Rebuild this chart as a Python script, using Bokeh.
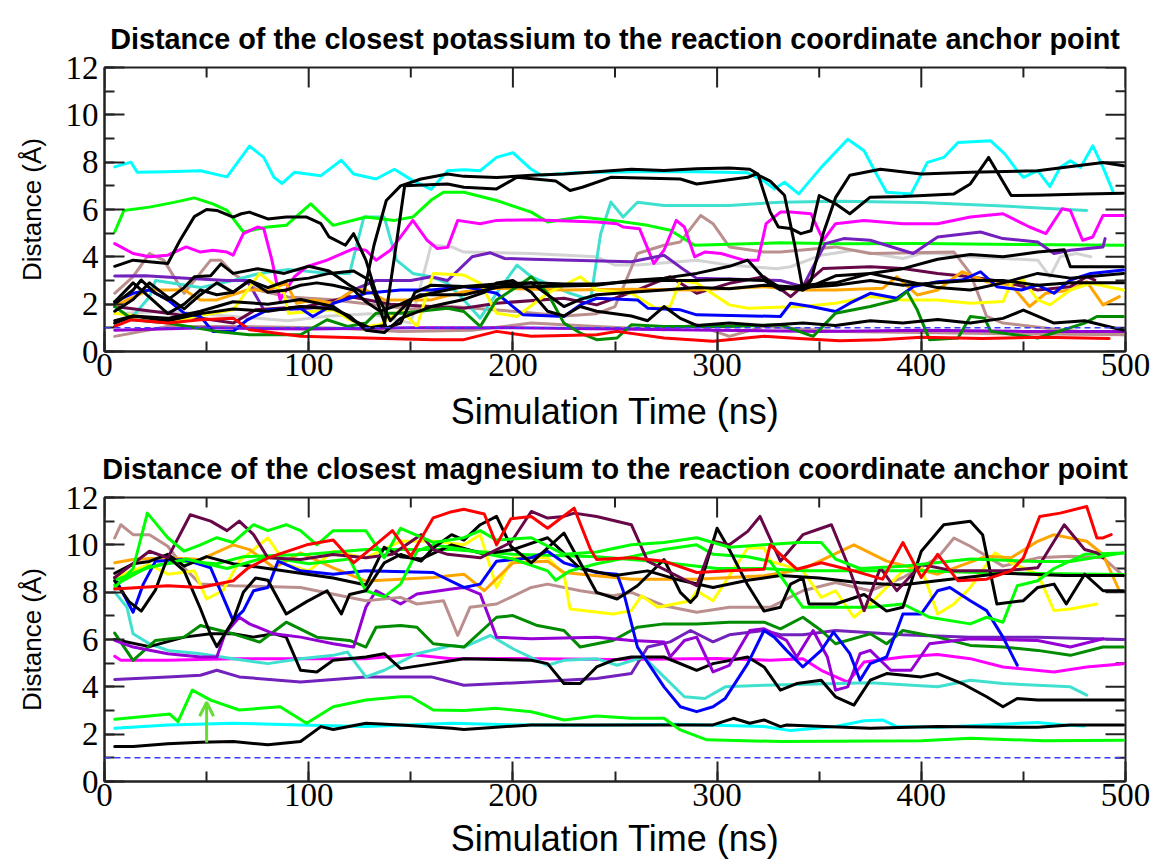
import math
from bokeh.plotting import figure
from bokeh.layouts import column
from bokeh.models import Range1d, SingleIntervalTicker, Span, Arrow, OpenHead
from bokeh.embed import file_html
from bokeh.resources import INLINE

# ---------------------------------------------------------------- labels and axes
TITLE_K = "Distance of the closest potassium to the reaction coordinate anchor point"
TITLE_MG = "Distance of the closest magnesium to the reaction coordinate anchor point"
X_LABEL = "Simulation Time (ns)"
Y_LABEL = "Distance (Å)"
X_MAX, Y_MAX = 500, 12
X_MAJOR, X_MINOR = [0, 100, 200, 300, 400, 500], [50, 150, 250, 350, 450]
Y_MAJOR, Y_MINOR = [0, 2, 4, 6, 8, 10, 12], [1, 3, 5, 7, 9, 11]
THRESHOLD = 1.0            # dashed reference distance (Å)

# ---------------------------------------------------------------- potassium traces: (time ns, distance Å)
K_CYAN = [(5, 7.8), (13, 8.0), (16, 7.57), (30, 7.6), (47, 7.64), (60, 7.38), (71, 8.68), (78, 8.2), (83, 7.36),
          (87, 7.1), (93, 7.57), (106, 7.43), (116, 8.08), (122, 7.5), (133, 7.29), (142, 7.7), (151, 7.22),
          (160, 6.85), (168, 7.64), (176, 7.68), (184, 7.64), (192, 8.2), (200, 8.4), (209, 7.7), (214, 7.45),
          (230, 7.55), (260, 7.6), (290, 7.6), (315, 7.55), (323, 7.2), (328, 6.87), (333, 7.15), (340, 6.66),
          (351, 7.78), (364, 8.97), (372, 8.48), (378, 7.5), (383, 6.73), (395, 6.66), (403, 7.99), (411, 8.2),
          (418, 8.83), (434, 8.9), (441, 8.34), (447, 7.64), (450, 7.36), (457, 7.64), (463, 6.97), (468, 7.78),
          (473, 8.06), (478, 7.78), (484, 8.69), (489, 7.78), (494, 6.73)]
K_GREEN = [(5, 5.05), (9.5, 5.96), (22, 6.1), (34, 6.3), (44, 6.49), (53, 6.24), (60, 5.96), (68, 5.05), (80, 5.26),
           (89, 5.33), (101, 6.24), (112, 5.33), (128, 5.68), (142, 5.54), (151, 5.68), (160, 6.4), (166, 6.73),
           (176, 6.73), (192, 6.38), (209, 5.89), (217, 5.47), (233, 5.68), (249, 5.54), (266, 5.33), (277, 5.12),
           (289, 4.49), (331, 4.59), (360, 4.55), (400, 4.56), (450, 4.52), (499, 4.49)]
K_MAGENTA = [(5, 4.56), (8, 4.42), (14, 4.14), (22, 4.0), (31, 4.07), (40, 4.42), (47, 4.2), (53, 4.28), (60, 4.2),
             (63, 4.07), (68, 4.98), (75, 5.26), (78, 5.19), (82, 3.86), (86, 2.18), (93, 3.16), (99, 3.58),
             (109, 3.86), (122, 4.35), (128, 4.28), (133, 3.86), (140, 4.28), (145, 4.84), (151, 5.54), (158, 4.7),
             (163, 4.35), (168, 4.4), (173, 5.54), (184, 5.4), (192, 5.54), (209, 5.57), (241, 5.47), (251, 5.4),
             (254, 5.26), (262, 5.19), (269, 3.72), (274, 4.28), (280, 5.54), (284, 5.26), (289, 4.0), (294, 4.2),
             (302, 4.14), (313, 3.86), (320, 3.86), (324, 5.4), (331, 5.89), (336, 5.89), (346, 5.82), (352, 4.7),
             (358, 5.4), (372, 5.54), (391, 5.4), (408, 5.4), (424, 5.68), (440, 5.82), (453, 5.26), (461, 4.98),
             (469, 6.03), (473, 5.96), (479, 4.7), (484, 4.84), (489, 5.75), (499, 5.75)]
K_TURQUOISE = [(5, 1.2), (14, 1.5), (22, 2.3), (25, 3.0), (47, 2.7), (63, 3.0), (76, 3.3), (90, 3.47), (110, 3.3),
               (120, 3.3), (127, 5.68), (137, 5.68), (143, 3.86), (151, 3.3), (160, 3.16), (168, 2.88), (176, 2.18),
               (184, 1.41), (192, 2.46), (202, 3.65), (209, 3.16), (228, 2.46), (238, 2.18), (243, 4.98),
               (248, 6.31), (254, 5.68), (261, 6.31), (274, 6.17), (306, 6.17), (331, 6.31), (360, 6.35),
               (400, 6.3), (440, 6.15), (481, 5.96)]
K_GRAY = [(5, 1.6), (30, 1.7), (60, 1.5), (90, 1.3), (110, 1.5), (130, 1.6), (150, 1.2), (160, 4.5), (170, 4.42),
          (176, 4.2), (209, 4.14), (241, 4.0), (250, 3.65), (261, 3.65), (290, 3.86), (306, 3.65), (329, 3.5),
          (336, 3.58), (351, 4.07), (367, 4.28), (391, 3.93), (400, 4.14), (408, 4.14), (424, 4.0), (457, 3.86),
          (463, 3.16), (468, 4.0), (476, 4.14), (483, 4.0)]
K_INDIGO = [(5, 3.19), (20, 3.2), (40, 3.1), (60, 3.0), (70, 3.0), (78, 1.76), (95, 1.8), (110, 1.9), (122, 2.6),
            (133, 3.0), (150, 3.0), (160, 3.16), (168, 3.0), (180, 4.0), (189, 4.17), (196, 3.93), (209, 3.9),
            (258, 3.79), (274, 4.07), (284, 3.44), (290, 3.09), (331, 3.0), (342, 2.74), (353, 4.56), (362, 4.77),
            (375, 4.7), (388, 4.35), (396, 4.14), (408, 4.84), (429, 5.05), (440, 4.77), (457, 4.63), (465, 4.14),
            (473, 4.28), (489, 4.42), (490, 4.77)]
K_VIOLET = [(5, 0.9), (50, 1.0), (100, 0.95), (150, 1.0), (200, 1.0), (250, 0.95), (300, 0.9), (350, 0.85),
            (400, 0.9), (450, 0.85), (499, 0.85)]
K_BROWN_A = [(5, 2.46), (14, 3.16), (22, 4.14), (29, 3.86), (39, 2.46), (52, 3.86), (57, 3.86), (63, 3.3),
             (75, 2.6), (90, 2.3), (110, 2.2), (130, 2.0), (150, 1.8), (170, 1.9), (200, 1.7), (225, 1.5),
             (241, 1.6), (250, 1.9), (261, 4.14), (274, 4.49), (282, 4.63), (292, 5.75), (298, 5.4), (306, 4.42),
             (323, 4.2), (331, 4.2), (358, 4.42), (375, 4.14), (416, 4.2), (424, 3.3), (432, 1.48), (440, 1.2),
             (470, 0.9), (499, 0.71)]
K_BROWN_B = [(5, 0.64), (31, 1.06), (63, 1.06), (112, 0.99), (145, 0.85), (180, 0.9), (209, 1.2), (241, 1.06),
             (274, 0.92), (290, 1.13), (306, 0.64), (323, 1.06), (360, 0.85), (400, 0.8), (440, 0.75), (499, 0.71)]
K_RED = [(5, 1.06), (13, 1.34), (31, 1.2), (47, 1.34), (63, 1.41), (71, 0.92), (96, 0.64), (128, 0.57), (161, 0.5),
         (176, 0.5), (192, 0.85), (209, 0.64), (241, 0.71), (251, 0.85), (274, 0.57), (298, 0.43), (323, 0.64),
         (340, 0.55), (360, 0.45), (380, 0.5), (400, 0.6), (430, 0.55), (460, 0.6), (492, 0.55)]
K_BLUE = [(5, 2.11), (14, 2.46), (22, 2.6), (31, 2.18), (39, 1.62), (47, 1.48), (53, 0.85), (63, 0.85), (70, 1.34),
          (80, 1.76), (96, 1.83), (102, 1.48), (109, 1.83), (112, 2.04), (128, 2.46), (145, 2.6), (160, 2.6),
          (176, 2.74), (192, 2.46), (205, 1.55), (225, 1.48), (233, 1.97), (241, 2.25), (261, 2.18), (266, 1.83),
          (282, 1.76), (290, 1.55), (331, 1.48), (336, 2.04), (346, 1.9), (358, 1.69), (365, 2.04), (375, 2.46),
          (388, 2.25), (396, 2.74), (408, 2.95), (420, 3.02), (429, 3.37), (437, 2.74), (449, 2.6), (457, 2.81),
          (465, 2.46), (473, 3.02), (483, 3.3), (499, 3.44)]
K_YELLOW = [(5, 1.62), (18, 1.48), (31, 1.2), (44, 1.48), (63, 1.76), (76, 3.3), (88, 2.46), (90, 1.62), (112, 1.76),
            (120, 1.34), (128, 1.06), (135, 1.13), (145, 1.76), (153, 1.06), (161, 3.3), (176, 3.23), (184, 2.88),
            (192, 1.62), (202, 1.48), (217, 2.46), (233, 3.16), (241, 2.6), (258, 2.46), (270, 1.83), (277, 1.9),
            (282, 3.02), (290, 2.88), (306, 1.97), (315, 1.83), (342, 1.9), (358, 2.04), (375, 2.32), (391, 2.18),
            (408, 2.18), (424, 2.04), (440, 2.11), (444, 2.88), (450, 3.02), (457, 2.18), (463, 1.97), (473, 2.6),
            (483, 2.88), (499, 2.6)]
K_ORANGE = [(5, 1.9), (11, 2.18), (22, 2.6), (39, 2.6), (47, 2.18), (55, 2.18), (70, 2.6), (80, 2.6), (89, 2.88),
            (94, 2.04), (102, 2.18), (112, 2.04), (122, 2.6), (128, 2.6), (137, 2.18), (160, 2.18), (176, 2.53),
            (192, 2.67), (225, 2.6), (258, 2.63), (290, 2.6), (323, 2.74), (342, 2.6), (358, 2.6), (381, 2.67),
            (388, 3.16), (398, 2.39), (408, 2.6), (420, 3.37), (432, 2.95), (444, 2.81), (453, 1.9), (461, 2.46),
            (473, 2.6), (481, 2.95), (489, 1.97), (497, 2.32)]
K_DKGREEN = [(5, 1.9), (14, 1.34), (31, 1.2), (55, 0.85), (71, 0.71), (96, 0.71), (109, 1.34), (119, 1.06),
             (128, 1.2), (133, 1.62), (145, 1.62), (168, 1.83), (176, 1.69), (184, 1.06), (192, 2.18), (202, 2.74),
             (209, 3.16), (217, 2.46), (225, 1.2), (233, 0.78), (241, 0.5), (251, 0.57), (258, 1.13), (274, 1.06),
             (306, 1.06), (331, 1.13), (347, 0.64), (358, 1.62), (375, 1.9), (388, 2.18), (393, 2.53), (398, 1.76),
             (404, 0.5), (418, 0.57), (424, 1.48), (431, 1.41), (434, 0.85), (457, 0.57), (480, 1.2), (486, 1.48),
             (499, 1.48)]
K_MAROON = [(5, 1.9), (31, 1.62), (63, 1.2), (74, 1.76), (99, 1.9), (120, 2.32), (140, 2.0), (160, 1.9), (176, 1.83),
            (192, 2.04), (225, 2.25), (241, 1.97), (261, 2.6), (277, 3.16), (290, 2.46), (306, 2.88), (323, 3.16),
            (336, 2.32), (352, 3.51), (375, 3.58), (391, 3.51), (408, 3.3), (424, 3.16), (440, 2.95), (457, 2.6),
            (473, 2.74), (481, 3.16), (485, 3.02)]
K_BLACK_1 = [(5, 3.6), (14, 3.86), (31, 3.72), (37, 4.7), (44, 5.7), (50, 6.0), (55, 5.96), (63, 5.68), (67, 5.82),
             (71, 5.89), (80, 5.6), (89, 5.68), (99, 5.68), (106, 5.4), (110, 4.84), (118, 4.49), (122, 4.98),
             (128, 3.86), (133, 2.46), (140, 1.3), (150, 2.2), (160, 2.46), (176, 2.74), (209, 2.74), (241, 2.8),
             (258, 3.0), (274, 3.1), (290, 3.3), (306, 3.6), (315, 3.86), (323, 3.1), (331, 2.7), (342, 2.6),
             (358, 3.2), (375, 3.3), (391, 3.5), (408, 3.9), (424, 4.1), (440, 4.0), (457, 4.2), (470, 4.3),
             (473, 3.58), (499, 3.58)]
K_BLACK_2 = [(5, 2.0), (14, 2.6), (18, 3.02), (25, 2.46), (31, 2.18), (39, 2.7), (44, 3.16), (52, 3.2), (57, 3.7),
             (63, 3.3), (75, 3.5), (88, 3.3), (100, 3.6), (110, 3.4), (120, 2.8), (127, 2.46), (132, 4.5),
             (138, 6.38), (145, 7.0), (155, 7.29), (168, 7.5), (176, 7.4), (192, 7.35), (209, 7.45), (225, 7.5),
             (241, 7.6), (258, 7.7), (274, 7.65), (290, 7.72), (306, 7.75), (316, 7.7), (320, 7.5), (326, 5.9),
             (330, 5.26), (336, 5.2), (341, 4.98), (346, 5.1), (350, 6.59), (358, 6.24), (365, 5.82), (375, 6.52),
             (391, 6.55), (416, 6.66), (424, 7.08), (433, 8.2), (444, 6.59), (457, 6.6), (480, 6.65), (499, 6.69)]
K_BLACK_3 = [(5, 1.3), (14, 1.5), (31, 1.4), (47, 1.7), (63, 2.1), (80, 2.0), (96, 2.2), (112, 1.9), (122, 1.3),
             (130, 1.0), (137, 1.1), (142, 4.0), (147, 7.0), (168, 7.08), (176, 6.94), (192, 6.87), (202, 7.36),
             (221, 7.2), (228, 6.8), (234, 6.94), (248, 7.36), (282, 7.29), (290, 7.08), (315, 7.36), (319, 7.5),
             (326, 7.2), (333, 6.6), (338, 4.5), (342, 2.6), (346, 3.0), (352, 5.0), (358, 6.5), (365, 7.45),
             (380, 7.7), (400, 7.5), (424, 7.57), (457, 7.64), (489, 7.99), (499, 7.85)]
K_BLACK_4 = [(5, 1.7), (14, 2.2), (22, 2.9), (31, 2.3), (39, 1.8), (47, 2.4), (55, 2.9), (63, 2.5), (71, 3.0),
             (80, 2.7), (90, 3.0), (100, 3.1), (110, 3.3), (122, 3.4), (130, 3.0), (138, 1.0), (145, 1.2), (152, 2.5),
             (160, 2.8), (176, 2.75), (192, 2.85), (209, 2.9), (225, 2.85), (241, 2.85), (258, 2.95), (274, 3.0),
             (290, 3.0), (306, 3.05), (323, 3.0), (331, 2.6), (342, 2.8), (358, 2.9), (375, 3.3), (391, 3.0),
             (408, 2.7), (424, 2.6), (440, 2.9), (457, 3.3), (473, 3.1), (499, 3.3)]
K_BLACK_5 = [(5, 1.2), (14, 1.5), (31, 1.3), (47, 1.6), (63, 1.8), (80, 1.7), (96, 1.9), (112, 1.8), (120, 1.5),
             (128, 0.9), (137, 0.8), (145, 1.4), (160, 1.9), (176, 2.2), (186, 2.5), (192, 2.9), (200, 3.0),
             (209, 2.5), (217, 1.7), (225, 1.5), (233, 1.9), (241, 1.7), (258, 1.5), (266, 1.3), (274, 1.9),
             (282, 1.4), (290, 1.1), (306, 1.2), (323, 1.1), (342, 1.2), (358, 1.1), (375, 1.3), (391, 1.2),
             (408, 1.35), (424, 1.2), (440, 1.4), (450, 1.75), (465, 1.2), (480, 1.3), (499, 0.9)]
K_BLACK_6 = [(5, 2.1), (14, 2.9), (22, 2.3), (31, 1.6), (39, 2.0), (47, 2.6), (55, 2.4), (63, 2.5), (71, 3.0),
             (80, 2.5), (89, 2.6), (96, 2.8), (104, 2.9), (112, 2.8), (122, 2.6), (128, 2.1), (135, 1.7), (145, 2.0),
             (155, 2.4), (176, 2.4), (192, 2.7), (209, 2.9), (217, 2.4), (225, 1.9), (233, 2.2), (241, 2.4),
             (258, 2.5), (274, 2.6), (290, 2.7), (306, 2.65), (323, 2.8), (342, 2.7), (358, 2.8), (375, 3.0),
             (391, 2.8), (408, 2.9), (424, 3.0), (440, 3.0), (457, 2.8), (473, 2.9), (499, 2.9)]

# ---------------------------------------------------------------- magnesium traces: (time ns, distance Å)
M_BLACK_LOW = [(5, 1.48), (14, 1.48), (31, 1.6), (47, 1.66), (63, 1.69), (80, 1.55), (96, 1.69), (106, 2.32),
               (112, 2.2), (128, 2.46), (145, 2.39), (170, 2.25), (176, 2.2), (209, 2.39), (241, 2.39), (274, 2.39),
               (298, 2.39), (308, 2.67), (316, 2.46), (323, 2.6), (331, 2.32), (334, 2.39), (375, 2.25),
               (408, 2.32), (457, 2.29), (473, 2.39), (499, 2.39)]
M_CYAN = [(5, 2.25), (31, 2.39), (63, 2.46), (96, 2.39), (128, 2.32), (170, 2.46), (200, 2.4), (240, 2.38),
          (280, 2.42), (323, 2.32), (336, 2.15), (358, 2.32), (372, 2.57), (381, 2.6), (388, 2.32), (408, 2.29),
          (457, 2.49), (470, 2.39), (480, 2.35)]
M_GREEN_LOW = [(5, 2.63), (22, 2.77), (32, 2.85), (36, 2.53), (43, 3.86), (52, 3.44), (66, 3.02), (86, 3.16),
               (99, 2.46), (112, 3.16), (128, 3.44), (145, 3.58), (150, 3.58), (161, 3.02), (176, 3.0), (192, 3.09),
               (209, 2.95), (225, 2.6), (241, 2.77), (258, 2.67), (274, 2.67), (282, 2.18), (295, 1.76), (331, 1.69),
               (400, 1.72), (424, 1.83), (460, 1.72), (499, 1.74)]
M_MAGENTA = [(5, 5.29), (8, 5.12), (31, 5.12), (63, 5.19), (96, 5.19), (128, 5.19), (150, 5.37), (170, 5.19),
             (200, 5.2), (250, 5.15), (300, 5.2), (326, 5.12), (342, 5.19), (351, 4.7), (364, 4.2), (372, 5.05),
             (391, 5.26), (408, 5.37), (424, 5.19), (440, 4.84), (465, 4.63), (481, 4.84), (499, 4.98)]
M_INDIGO = [(5, 4.31), (31, 4.42), (47, 4.49), (55, 4.7), (66, 4.42), (96, 4.2), (128, 4.42), (160, 4.42),
            (176, 4.07), (209, 4.2), (241, 4.35), (258, 4.56), (266, 5.68), (277, 5.9), (287, 6.38), (298, 5.9),
            (306, 6.2), (323, 6.38), (331, 6.2), (342, 6.2), (358, 6.38), (391, 6.2), (424, 6.1), (457, 6.1),
            (499, 6.0)]
M_VIOLET = [(5, 5.96), (14, 5.68), (31, 5.4), (47, 5.26), (55, 5.26), (59, 6.24), (66, 6.94), (71, 6.66), (83, 6.24),
            (96, 6.1), (112, 5.82), (122, 5.68), (128, 7.36), (133, 8.06), (145, 7.5), (153, 7.92), (170, 8.13),
            (176, 8.2), (184, 7.92), (192, 6.1), (209, 6.03), (241, 6.1), (258, 5.96), (274, 5.89), (277, 5.26),
            (284, 5.96), (290, 6.1), (298, 4.63), (306, 4.91), (316, 6.38), (323, 6.45), (334, 5.96), (339, 5.26),
            (347, 6.38), (354, 5.26), (358, 3.86), (364, 4.0), (370, 5.4), (375, 5.54), (385, 4.7), (395, 4.7),
            (404, 5.82), (424, 6.03), (457, 5.96), (473, 5.68), (489, 6.03)]
M_TURQUOISE = [(5, 8.0), (11, 7.36), (14, 6.24), (22, 5.82), (31, 5.54), (47, 5.4), (63, 5.19), (80, 4.98),
               (96, 5.19), (112, 5.33), (119, 5.47), (128, 4.42), (137, 4.7), (153, 5.4), (170, 5.75), (176, 5.68),
               (189, 6.17), (200, 5.61), (217, 4.91), (225, 5.12), (241, 5.19), (251, 4.91), (264, 5.26),
               (274, 4.42), (284, 3.58), (294, 3.51), (304, 4.0), (323, 4.07), (375, 4.17), (408, 4.0), (424, 4.28),
               (440, 4.14), (473, 4.0), (481, 3.65)]
M_DKGREEN = [(5, 6.27), (14, 5.12), (25, 5.96), (39, 6.1), (47, 6.59), (63, 6.24), (76, 5.89), (89, 6.73),
             (104, 6.1), (120, 5.96), (128, 5.68), (133, 6.52), (145, 6.59), (153, 6.52), (161, 5.82), (176, 5.68),
             (192, 6.94), (200, 7.01), (212, 6.59), (225, 6.38), (233, 5.68), (249, 5.96), (261, 6.52), (274, 6.66),
             (290, 6.66), (306, 6.73), (323, 6.73), (331, 6.45), (342, 6.94), (351, 6.38), (358, 5.82), (375, 6.24),
             (383, 5.82), (391, 6.38), (408, 6.1), (424, 5.75), (440, 5.68), (457, 5.54), (473, 5.33), (489, 5.68),
             (499, 5.68)]
M_BROWN = [(5, 10.29), (8, 10.85), (14, 10.43), (22, 10.43), (31, 9.94), (39, 9.03), (47, 8.34), (63, 8.27),
           (96, 8.2), (128, 7.64), (145, 7.78), (153, 7.5), (160, 7.57), (166, 7.64), (173, 6.17), (179, 7.36),
           (192, 7.5), (209, 8.2), (217, 8.34), (233, 8.06), (249, 7.85), (258, 7.99), (274, 7.43), (290, 7.15),
           (306, 7.36), (326, 7.36), (342, 8.06), (358, 8.41), (375, 8.06), (391, 8.62), (408, 9.45), (416, 10.29),
           (424, 9.94), (440, 9.1), (457, 9.45), (473, 9.52), (489, 9.45), (499, 8.69)]
M_ORANGE = [(5, 9.24), (14, 9.38), (31, 9.45), (47, 9.38), (63, 10.0), (71, 9.8), (83, 9.03), (96, 9.66), (112, 9.03),
            (128, 8.47), (145, 8.55), (161, 8.62), (176, 8.76), (186, 8.06), (200, 9.24), (217, 9.31), (225, 8.83),
            (258, 8.55), (290, 8.55), (323, 8.69), (342, 8.97), (367, 10.0), (383, 9.31), (408, 8.76), (432, 9.52),
            (444, 9.45), (457, 10.15), (465, 10.43), (481, 10.15), (489, 9.59), (497, 8.06)]
M_YELLOW = [(5, 8.62), (22, 9.17), (31, 8.76), (44, 8.9), (50, 7.71), (58, 8.06), (66, 9.31), (73, 9.8), (80, 10.29),
            (89, 9.17), (100, 8.9), (112, 9.73), (128, 9.45), (145, 10.15), (161, 10.15), (176, 10.0), (184, 10.43),
            (192, 8.2), (200, 9.45), (217, 9.45), (225, 8.76), (228, 7.29), (249, 7.08), (258, 7.22), (263, 7.85),
            (271, 7.36), (287, 7.64), (290, 8.06), (298, 7.64), (315, 9.87), (323, 9.87), (326, 9.31), (342, 8.9),
            (351, 7.78), (358, 8.06), (367, 6.94), (375, 7.5), (391, 8.9), (400, 9.03), (408, 7.08), (416, 7.5),
            (424, 8.2), (436, 9.66), (444, 9.24), (457, 8.76), (465, 7.22), (473, 7.29), (486, 7.5)]
M_RED = [(5, 8.13), (31, 8.27), (47, 8.2), (63, 8.48), (70, 9.0), (80, 9.45), (99, 10.0), (112, 10.2), (122, 9.24),
         (128, 9.66), (141, 10.6), (150, 9.52), (161, 11.14), (170, 11.4), (176, 11.5), (186, 11.3), (192, 10.0),
         (199, 11.1), (209, 11.2), (217, 10.7), (230, 11.55), (238, 9.8), (241, 9.38), (258, 9.45), (274, 9.31),
         (290, 8.83), (306, 8.9), (323, 8.97), (326, 10.0), (331, 9.6), (339, 8.97), (351, 9.24), (367, 8.9),
         (381, 8.55), (391, 10.1), (400, 8.62), (408, 9.6), (418, 8.48), (432, 8.55), (444, 8.9), (450, 9.45),
         (458, 11.2), (468, 11.34), (481, 11.62), (486, 10.29), (489, 10.29), (493, 10.43)]
M_MAROON = [(5, 8.62), (22, 9.73), (31, 9.45), (42, 11.27), (52, 11.0), (60, 10.6), (66, 11.0), (73, 10.43),
            (80, 9.45), (96, 9.38), (112, 9.59), (128, 9.45), (141, 9.6), (155, 10.43), (161, 9.8), (168, 9.6),
            (184, 9.45), (199, 10.1), (209, 11.41), (217, 11.13), (225, 11.2), (230, 11.34), (241, 11.2),
            (258, 10.85), (266, 9.31), (282, 8.62), (290, 8.27), (298, 10.15), (306, 10.0), (315, 10.57),
            (321, 11.2), (331, 9.31), (342, 10.43), (351, 10.7), (356, 10.85), (364, 9.17), (372, 7.22), (380, 9.03),
            (388, 8.06), (400, 9.17), (416, 8.9), (440, 8.9), (457, 9.03), (470, 10.85), (480, 9.8), (486, 9.66),
            (489, 9.45)]
M_BLUE = [(5, 8.62), (14, 7.15), (19, 8.34), (25, 9.31), (39, 9.38), (47, 9.17), (52, 9.03), (63, 6.8), (68, 7.22),
          (73, 8.06), (80, 8.2), (85, 9.31), (96, 8.9), (112, 8.76), (128, 8.9), (161, 8.83), (176, 8.2), (184, 8.34),
          (192, 9.31), (209, 9.45), (217, 9.73), (225, 9.24), (241, 8.83), (251, 8.76), (254, 8.06), (261, 5.68),
          (274, 4.0), (282, 3.16), (290, 2.95), (298, 3.16), (304, 3.51), (315, 4.98), (323, 6.38), (328, 6.1),
          (334, 5.54), (342, 4.84), (351, 5.54), (357, 6.31), (365, 5.4), (370, 4.28), (375, 4.98), (383, 5.26),
          (388, 6.38), (391, 7.08), (400, 7.08), (408, 8.06), (414, 8.2), (424, 7.64), (432, 7.22), (440, 6.1),
          (447, 4.91)]
M_GREEN_A = [(5, 8.2), (14, 9.0), (21, 11.34), (31, 10.3), (39, 9.73), (47, 10.0), (55, 10.3), (63, 10.1),
             (73, 10.85), (80, 10.6), (89, 10.85), (96, 10.6), (104, 10.0), (112, 10.6), (128, 10.6), (137, 9.45),
             (145, 10.7), (153, 10.4), (161, 10.1), (176, 10.3), (184, 10.6), (192, 10.2), (209, 10.3), (225, 9.6),
             (241, 9.7), (258, 10.0), (274, 10.1), (290, 10.3), (306, 9.9), (323, 10.0), (340, 10.1), (351, 10.1),
             (358, 9.4), (370, 9.0), (391, 9.1), (424, 9.4), (457, 9.3), (473, 9.3), (499, 9.66)]
M_GREEN_B = [(5, 8.3), (22, 9.1), (39, 9.3), (55, 9.2), (68, 9.5), (100, 9.6), (128, 9.8), (170, 9.8), (200, 9.6),
             (241, 9.5), (270, 9.3), (300, 9.0), (323, 9.0), (342, 8.9), (400, 8.9), (440, 8.8), (499, 8.75)]
M_GREEN_C = [(5, 8.5), (20, 9.0), (40, 9.4), (60, 9.0), (80, 9.5), (100, 9.2), (120, 9.4), (128, 8.06), (137, 7.8),
             (145, 8.34), (153, 9.73), (161, 10.0), (176, 9.8), (200, 9.4), (217, 8.9), (221, 8.5), (228, 8.9),
             (241, 9.2), (258, 9.5), (274, 9.8), (290, 10.0), (298, 9.6), (315, 9.5), (326, 9.3), (342, 7.36),
             (358, 7.36), (375, 7.36), (391, 7.5), (404, 6.94), (424, 6.66), (432, 6.94), (440, 6.73), (447, 8.27),
             (457, 8.48), (465, 9.0), (480, 9.6), (499, 9.66)]
M_BLACK_A = [(5, 8.48), (12, 7.6), (18, 7.2), (25, 8.1), (31, 9.5), (39, 8.9), (47, 7.3), (52, 6.2), (55, 5.7),
             (63, 6.8), (68, 8.0), (74, 8.6), (80, 8.5), (89, 7.08), (99, 7.6), (109, 8.06), (116, 7.08), (120, 7.9),
             (128, 8.06), (137, 9.24), (145, 9.59), (155, 9.31), (161, 9.87), (170, 10.43), (176, 10.2),
             (184, 10.85), (192, 11.2), (199, 9.94), (209, 9.24), (225, 10.5), (233, 9.24), (241, 7.99), (251, 7.71),
             (261, 8.27), (274, 9.38), (282, 7.99), (287, 7.57), (290, 7.85), (300, 10.7), (306, 9.8), (315, 8.3),
             (323, 7.2), (331, 7.36), (336, 8.34), (342, 8.6), (345, 7.5), (358, 7.5), (372, 7.9), (383, 7.2),
             (391, 7.36), (400, 9.73), (411, 10.85), (424, 11.0), (430, 10.43), (437, 7.5), (450, 7.64), (457, 8.2),
             (465, 8.34), (471, 7.5), (480, 8.76), (489, 8.06), (499, 8.06)]
M_BLACK_B = [(5, 8.8), (14, 9.2), (22, 9.3), (31, 9.6), (39, 9.1), (50, 9.5), (63, 9.2), (80, 9.0), (96, 8.8),
             (112, 8.6), (128, 8.3), (137, 9.9), (145, 9.5), (155, 9.4), (170, 10.0), (186, 9.6), (200, 9.8),
             (217, 10.3), (233, 9.0), (250, 8.7), (266, 8.9), (282, 8.5), (298, 8.2), (315, 8.5), (331, 8.7),
             (350, 8.6), (370, 8.4), (390, 8.3), (410, 8.5), (440, 8.8), (470, 8.7), (499, 8.7)]
M_BLACK_C = [(5, 6.0), (22, 5.7), (39, 6.1), (52, 6.24), (63, 6.24), (73, 6.1), (83, 6.24), (89, 6.1), (96, 4.7),
             (104, 4.63), (112, 5.12), (128, 5.26), (137, 5.4), (145, 4.77), (161, 4.98), (176, 5.19), (209, 5.12),
             (217, 4.98), (225, 4.14), (233, 4.14), (241, 4.84), (249, 5.12), (258, 5.26), (274, 5.26), (290, 4.7),
             (298, 4.98), (315, 5.26), (323, 4.84), (331, 3.86), (339, 4.14), (351, 4.28), (358, 3.58), (367, 3.23),
             (375, 4.28), (383, 4.56), (400, 4.42), (408, 4.56), (420, 4.14), (432, 3.58), (440, 3.16), (447, 3.51),
             (457, 3.44), (480, 3.44), (499, 3.44)]

# marker arrow in the magnesium panel (time, from, to)
ARROW_T, ARROW_FROM, ARROW_TO = 50, 1.65, 3.35

# ---------------------------------------------------------------- colours (xmgrace palette)
BLACK, RED, GREEN, BLUE = "#000000", "#ff0000", "#00ff00", "#0000ff"
YELLOW, BROWN, GREY, VIOLET = "#ffff00", "#bc8f8f", "#d3d3d3", "#9400d3"
CYAN, MAGENTA, ORANGE, INDIGO = "#00ffff", "#ff00ff", "#ffa500", "#7221bc"
MAROON, TURQUOISE, GREEN4 = "#670748", "#40e0d0", "#008b00"
ARROW_GREEN = "#66dd33"
FRAME = "#222222"

K_SERIES = [
    (K_GRAY, GREY), (K_BROWN_B, BROWN), (K_BROWN_A, BROWN), (K_VIOLET, VIOLET),
    (K_TURQUOISE, TURQUOISE), (K_CYAN, CYAN), (K_GREEN, GREEN), (K_MAGENTA, MAGENTA), (K_INDIGO, INDIGO),
    (K_MAROON, MAROON), (K_ORANGE, ORANGE), (K_YELLOW, YELLOW), (K_BLUE, BLUE), (K_DKGREEN, GREEN4),
    (K_BLACK_4, BLACK), (K_BLACK_5, BLACK), (K_BLACK_6, BLACK), (K_BLACK_1, BLACK), (K_BLACK_2, BLACK),
    (K_BLACK_3, BLACK), (K_RED, RED),
]
MG_SERIES = [
    (M_CYAN, CYAN), (M_BLACK_LOW, BLACK), (M_GREEN_LOW, GREEN), (M_MAGENTA, MAGENTA), (M_INDIGO, INDIGO),
    (M_TURQUOISE, TURQUOISE), (M_BLACK_C, BLACK), (M_DKGREEN, GREEN4), (M_VIOLET, VIOLET),
    (M_BROWN, BROWN), (M_YELLOW, YELLOW), (M_ORANGE, ORANGE), (M_GREEN_B, GREEN), (M_BLUE, BLUE),
    (M_BLACK_B, BLACK), (M_GREEN_C, GREEN), (M_BLACK_A, BLACK), (M_MAROON, MAROON), (M_GREEN_A, GREEN),
    (M_RED, RED),
]

TICK_FONT = "Liberation Serif"
LABEL_FONT = "Liberation Sans"
MAJOR_LEN, MINOR_LEN = 20, 10


def style_axis(ax):
    ax.axis_line_width = 2
    ax.axis_line_color = FRAME
    ax.major_tick_in = MAJOR_LEN
    ax.major_tick_out = 0
    ax.minor_tick_in = MINOR_LEN
    ax.minor_tick_out = 0
    ax.major_tick_line_width = 2
    ax.minor_tick_line_width = 2
    ax.major_tick_line_color = FRAME
    ax.minor_tick_line_color = FRAME
    ax.major_label_text_font = TICK_FONT
    ax.major_label_text_font_size = "33px"
    ax.major_label_text_color = "black"
    ax.axis_label_text_font = LABEL_FONT
    ax.axis_label_text_font_style = "normal"
    ax.axis_label_text_color = "black"


def make_panel(title, series, height, top_border, bottom_border, label_gap):
    p = figure(width=1154, height=height, output_backend="svg", toolbar_location=None,
               x_range=Range1d(0, X_MAX), y_range=Range1d(0, Y_MAX),
               min_border_left=104, min_border_right=29, min_border_top=top_border,
               min_border_bottom=bottom_border)
    p.background_fill_color = "white"
    p.border_fill_color = "white"
    p.outline_line_color = FRAME
    p.outline_line_width = 2
    p.xgrid.visible = False
    p.ygrid.visible = False

    p.title.text = title
    p.title.text_font = LABEL_FONT
    p.title.text_font_style = "bold"
    p.title.text_font_size = "28.8px"
    p.title.text_color = "black"
    p.title.align = "center"
    p.title.vertical_align = "top"
    p.title.standoff = 21

    p.xaxis.ticker = SingleIntervalTicker(interval=100, num_minor_ticks=2)
    p.yaxis.ticker = SingleIntervalTicker(interval=2, num_minor_ticks=2)
    style_axis(p.xaxis[0])
    style_axis(p.yaxis[0])
    p.xaxis.major_label_standoff = 2
    p.yaxis.major_label_standoff = 6

    p.xaxis.axis_label = X_LABEL
    p.xaxis.axis_label_text_font_size = "36px"
    p.xaxis.axis_label_standoff = label_gap
    p.yaxis.axis_label = Y_LABEL
    p.yaxis.axis_label_text_font_size = "26px"
    p.yaxis.axis_label_standoff = 16

    # mirrored ticks on the top and right edges of the frame
    for xs, length in ((X_MAJOR, MAJOR_LEN), (X_MINOR, MINOR_LEN)):
        p.ray(x=xs, y=[Y_MAX] * len(xs), length=length, length_units="screen", angle=-math.pi / 2,
              line_color=FRAME, line_width=2)
    for ys, length in ((Y_MAJOR, MAJOR_LEN), (Y_MINOR, MINOR_LEN)):
        p.ray(x=[X_MAX] * len(ys), y=ys, length=length, length_units="screen", angle=math.pi,
              line_color=FRAME, line_width=2)

    for pts, colour in series:
        ts = [a for a, _ in pts]
        vs = [b for _, b in pts]
        p.line(ts, vs, line_color=colour, line_width=3, line_join="round", line_cap="round")

    p.add_layout(Span(location=THRESHOLD, dimension="width", line_color="#3a3aff",
                      line_width=1.5, line_dash="6 4"))
    return p


top_panel = make_panel(TITLE_K, K_SERIES, 434, 67, 82, 12)
bottom_panel = make_panel(TITLE_MG, MG_SERIES, 427, 63, 79, 9)
bottom_panel.add_layout(Arrow(end=OpenHead(size=14, line_color=ARROW_GREEN, line_width=3),
                              x_start=ARROW_T, y_start=ARROW_FROM, x_end=ARROW_T, y_end=ARROW_TO,
                              line_color=ARROW_GREEN, line_width=3))

layout = column(top_panel, bottom_panel, spacing=0)
open("out.html", "w").write(file_html(layout, INLINE))
